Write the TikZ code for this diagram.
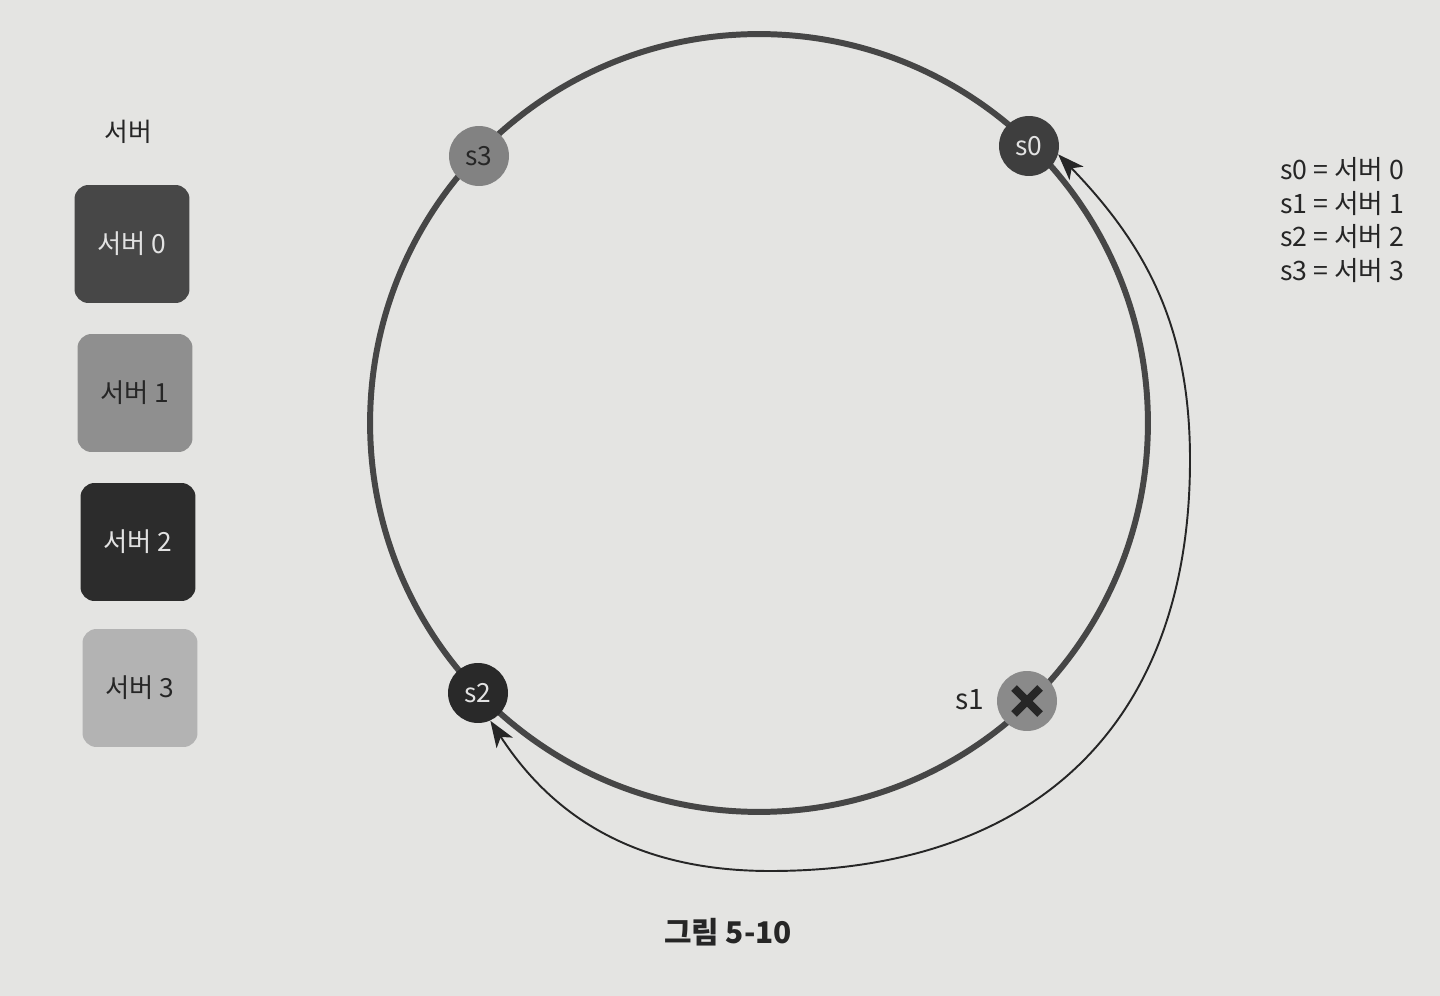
\documentclass[tikz,border=0pt]{standalone}
\usepackage{fontspec}
\setmainfont{Noto Sans CJK KR}
\usetikzlibrary{arrows.meta,calc}
\definecolor{bg}{HTML}{E4E4E2}
\definecolor{ring}{HTML}{464646}
\definecolor{cz}{HTML}{3E3E3E}
\definecolor{co}{HTML}{8A8A8A}
\definecolor{ct}{HTML}{292929}
\definecolor{cth}{HTML}{828282}
\definecolor{lz}{HTML}{474747}
\definecolor{lo}{HTML}{8F8F8F}
\definecolor{lt}{HTML}{2C2C2C}
\definecolor{lth}{HTML}{B3B3B3}
\definecolor{ink}{HTML}{262626}
\definecolor{lightink}{HTML}{E2E2E2}
\tikzset{
  srv/.style={circle, minimum size=1.2cm, inner sep=0pt, font=\fontsize{15}{17}\selectfont},
  legbox/.style={rounded corners=0.28cm, minimum width=2.3cm, minimum height=2.36cm, inner sep=0pt, font=\fontsize{15}{17}\selectfont},
  arc/.style={draw=ink, line width=1.1pt, {Stealth[length=15pt,width=11pt,inset=4pt]}-{Stealth[length=15pt,width=11pt,inset=4pt]}},
}
\begin{document}
\begin{tikzpicture}[x=0.02cm,y=-0.02cm]
\fill[bg] (0,0) rectangle (1440,996);
\useasboundingbox (0,0) rectangle (1440,996);

% ring
\coordinate (c) at (759,423);
\draw[ring, line width=3.4pt] (c) circle[radius=7.78cm];

% servers on ring
\node[srv, fill=cz, text=lightink] (s0) at (1029,146) {s0};
\node[srv, fill=cth, text=ink] (s3) at (479,156) {s3};
\node[srv, fill=ct, text=lightink] (s2) at (478,693) {s2};
\node[srv, fill=co] (s1) at (1027,701) {};
\draw[ink, line width=4.6pt] ($(s1)+(-13,-13)$) -- ($(s1)+(13,13)$);
\draw[ink, line width=4.6pt] ($(s1)+(-13,13)$) -- ($(s1)+(13,-13)$);
\node[font=\fontsize{16}{18}\selectfont, text=ink] (s1l) at (970,700) {s1};

% arrow arc from s2 around to s0
\coordinate (bot) at (770,871);
\coordinate (rgt) at (1190,460);
\draw[arc] (s2.-66) to[out=-57, in=180] (bot)
                    to[out=0, in=-90, looseness=1.15] (rgt)
                    to[out=90, in=-46] (s0.-16);

% legend
\node[font=\fontsize{14.7}{17}\selectfont, text=ink] (lt) at (128,132) {서버};
\node[legbox, fill=lz, text=lightink] (l0) at (132,244) {서버 0};
\node[legbox, fill=lo, text=ink] (l1) at (135,393) {서버 1};
\node[legbox, fill=lt, text=lightink] (l2) at (138,542) {서버 2};
\node[legbox, fill=lth, text=ink] (l3) at (140,688) {서버 3};

% mapping
\node[anchor=west, align=left, text=ink, font=\fontsize{15.2}{19.2}\selectfont] (map) at (1274,220)
  {s0 = 서버 0\\ s1 = 서버 1\\ s2 = 서버 2\\ s3 = 서버 3};

% caption
\node[font=\fontsize{17}{19}\selectfont\bfseries, text=ink] (cap) at (728,932) {그림 5-10};
\end{tikzpicture}
\end{document}
